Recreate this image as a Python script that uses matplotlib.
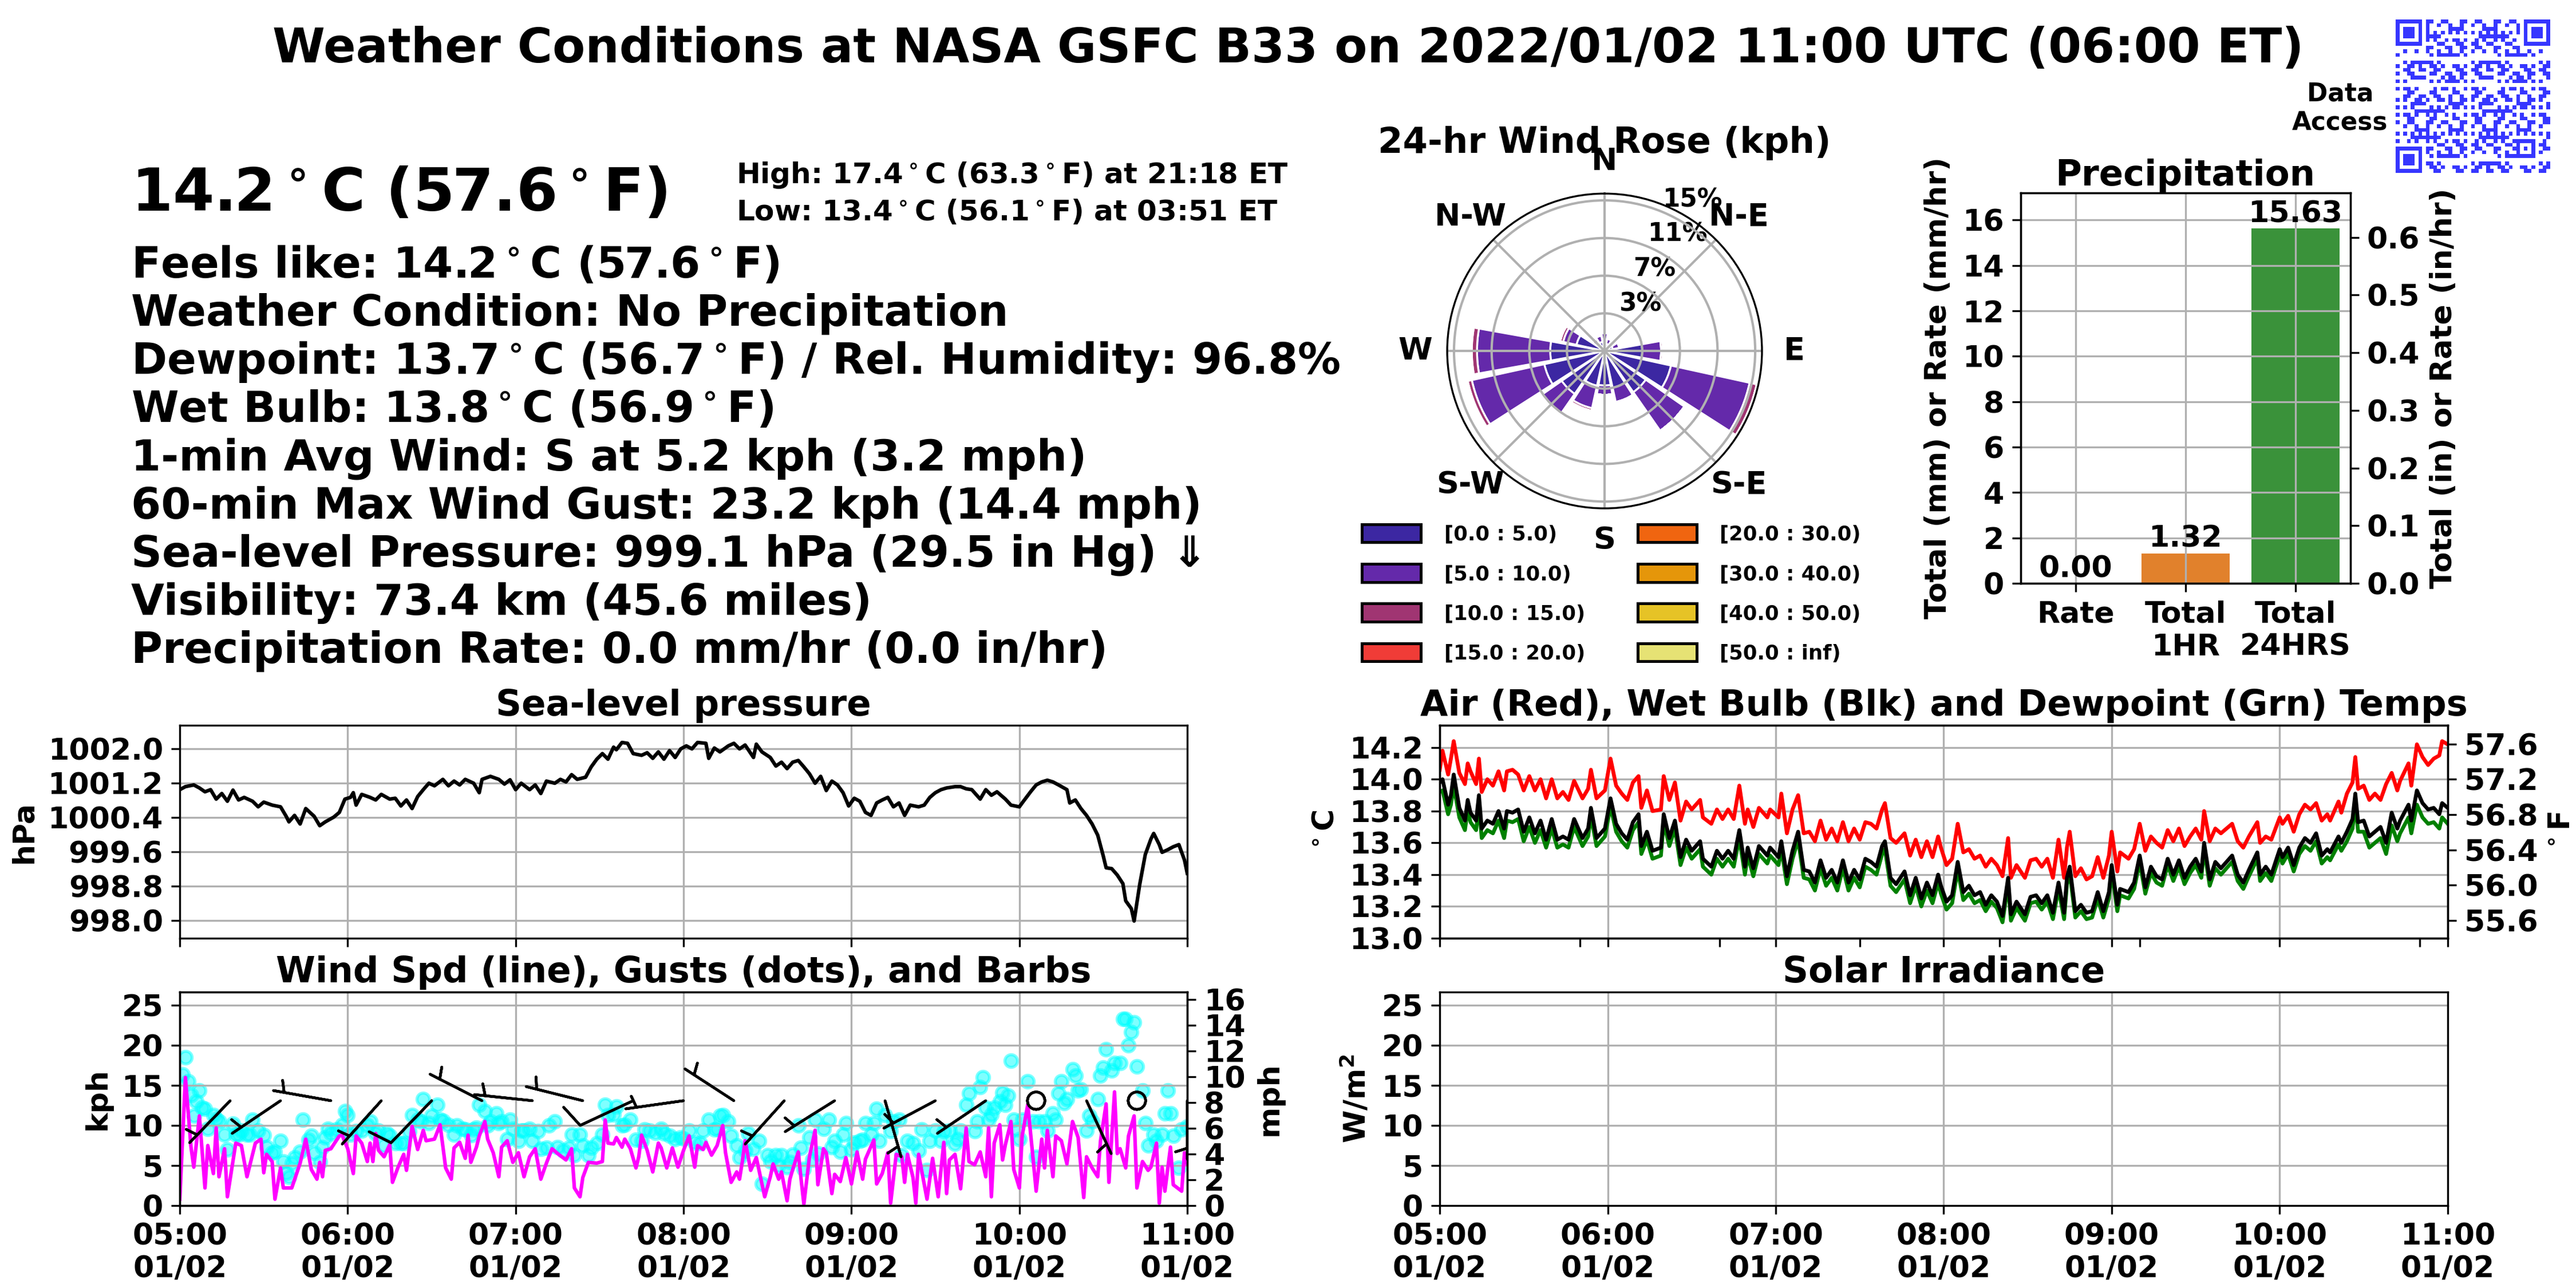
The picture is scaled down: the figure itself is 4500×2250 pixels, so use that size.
import numpy as np
import pandas as pd
import matplotlib
matplotlib.use("Agg")
import matplotlib.pyplot as plt
import matplotlib.dates as mdates
from matplotlib.patches import Patch
from matplotlib.colors import ListedColormap

plt.rcParams['font.family'] = ['DejaVu Sans']
plt.rcParams['font.weight'] = 'bold'
plt.rcParams['axes.titleweight'] = 'bold'
plt.rcParams['axes.labelweight'] = 'bold'

# ---------------- data ----------------
# minutes after 05:00 UTC

pres_min = [0,2,5,7,9,11,13,15,17,19,21,23,26,28,30,33,36,38,39,41,43,45,48,50,52,55,57,59,61,62,
            63,65,68,70,72,75,77,79,81,83,85,87,89,91,94,96,98,100,102,105,107,108,111,114,116,118,120,122,125,127,
            129,131,134,136,138,140,142,145,147,149,151,153,155,156,158,160,162,165,167,169,171,173,175,177,179,181,183,185,188,189,
            191,193,196,198,200,202,205,206,208,211,213,215,217,219,221,223,225,227,229,231,233,235,237,239,241,243,245,247,249,251,
            253,255,257,259,261,264,266,268,270,272,274,277,279,281,283,286,288,290,292,295,297,300,301,304,306,308,310,312,314,317,
            318,320,322,324,326,328,330,331,333,335,337,338,340,341,343,345,347,348,350,351,353,355,357,359,360]
pres_hpa = [1001.05,1001.12,1001.16,1001.09,1001.0,1001.05,1000.83,1000.96,1000.78,1001.04,1000.81,1000.87,1000.78,1000.65,1000.76,
            1000.69,1000.65,1000.43,1000.30,1000.45,1000.25,1000.61,1000.43,1000.21,1000.30,1000.41,1000.52,1000.83,1000.87,1000.98,
            1000.69,1000.94,1000.87,1000.81,1000.94,1000.83,1000.85,1000.67,1000.81,1000.61,1000.89,1001.05,1001.20,1001.14,1001.29,
            1001.14,1001.25,1001.16,1001.29,1001.20,1000.98,1001.29,1001.36,1001.29,1001.18,1001.28,1001.05,1001.20,1001.05,1001.16,
            1000.96,1001.25,1001.20,1001.29,1001.23,1001.40,1001.29,1001.34,1001.58,1001.76,1001.89,1001.76,1002.04,1001.98,1002.15,
            1002.13,1001.89,1001.85,1001.91,1001.78,1001.93,1001.76,1001.96,1001.80,1002.00,1002.07,1002.00,1002.15,1002.13,1001.78,
            1002.02,1001.93,1002.07,1002.13,1002.00,1002.09,1001.80,1002.11,1001.93,1001.80,1001.60,1001.69,1001.54,1001.69,1001.73,
            1001.58,1001.42,1001.20,1001.36,1001.03,1001.25,1001.16,1000.98,1000.67,1000.85,1000.78,1000.52,1000.45,1000.74,1000.81,
            1000.87,1000.65,1000.74,1000.45,1000.69,1000.65,1000.69,1000.87,1000.98,1001.05,1001.09,1001.12,1001.12,1001.07,1001.05,
            1000.83,1001.05,1000.92,1001.00,1000.83,1000.69,1000.65,1000.74,1001.00,1001.16,1001.23,1001.27,1001.23,1001.16,1001.05,
            1000.74,1000.81,1000.61,1000.45,1000.25,999.99,999.50,999.23,999.21,999.06,998.86,998.46,998.28,997.99,998.84,
            999.54,999.90,1000.03,999.77,999.59,999.65,999.72,999.77,999.41,999.10]

temp_min = [0,1,3,4,5,7,9,10,11,13,14,15,17,19,21,23,24,26,28,30,32,34,36,38,40,42,44,46,48,51,
            53,54,56,59,61,63,65,67,69,71,72,74,76,79,80,82,84,86,88,90,93,94,97,99,101,103,105,107,109,110,
            112,114,117,118,121,122,124,126,128,130,132,134,136,138,140,142,144,146,148,150,152,154,156,158,159,161,163,166,168,170,
            172,174,176,178,179,181,183,185,187,189,191,193,195,197,199,201,203,204,206,209,211,213,215,217,219,221,223,224,225,227,
            229,231,233,235,237,239,240,242,243,246,248,250,252,254,256,258,260,262,264,266,268,270,272,273,275,277,279,281,283,285,
            287,289,292,293,295,297,300,301,303,305,307,309,311,313,315,317,318,321,322,324,326,327,328,330,332,334,336,338,340,342,
            343,346,347,349,351,353,355,357,358,360]
air_c = [14.06,14.18,14.03,14.13,14.24,14.04,13.97,14.10,14.05,13.97,14.13,13.92,14.00,13.96,14.05,13.93,14.05,14.06,14.03,13.93,
         14.02,13.93,14.00,13.88,14.00,13.88,13.92,13.87,13.99,13.88,13.94,14.06,13.88,13.93,14.13,13.96,13.91,13.87,13.98,14.02,
         13.82,13.93,13.80,13.81,14.02,13.87,13.98,13.74,13.86,13.81,13.87,13.76,13.72,13.81,13.75,13.81,13.75,13.96,13.72,13.81,
         13.70,13.82,13.76,13.81,13.76,13.91,13.66,13.81,13.90,13.66,13.67,13.61,13.74,13.62,13.69,13.61,13.73,13.61,13.69,13.62,
         13.73,13.72,13.69,13.81,13.85,13.63,13.60,13.66,13.52,13.62,13.51,13.61,13.51,13.64,13.57,13.46,13.50,13.72,13.54,13.56,
         13.50,13.52,13.45,13.50,13.46,13.39,13.63,13.38,13.46,13.38,13.49,13.50,13.45,13.50,13.38,13.62,13.38,13.57,13.67,13.39,
         13.44,13.37,13.39,13.51,13.38,13.52,13.67,13.42,13.54,13.50,13.56,13.72,13.55,13.64,13.60,13.57,13.68,13.61,13.69,13.58,
         13.64,13.69,13.62,13.80,13.61,13.69,13.66,13.69,13.72,13.61,13.57,13.64,13.73,13.60,13.64,13.62,13.76,13.72,13.77,13.67,
         13.78,13.84,13.81,13.85,13.74,13.78,13.74,13.86,13.79,13.91,13.98,14.14,13.94,13.96,13.87,13.91,13.87,13.97,14.04,13.93,
         13.99,14.10,13.96,14.22,14.14,14.09,14.13,14.15,14.24,14.22]
wetbulb_c = [13.98,14.00,13.84,13.90,14.03,13.82,13.74,13.87,13.79,13.74,13.90,13.69,13.74,13.72,13.80,13.69,13.80,13.79,13.81,13.67,
             13.76,13.66,13.74,13.62,13.75,13.62,13.64,13.62,13.75,13.63,13.69,13.82,13.63,13.69,13.88,13.72,13.66,13.62,13.73,13.78,
             13.58,13.67,13.55,13.57,13.78,13.63,13.74,13.51,13.62,13.55,13.61,13.50,13.45,13.55,13.50,13.55,13.50,13.68,13.45,13.57,
             13.44,13.58,13.52,13.57,13.51,13.61,13.39,13.55,13.67,13.43,13.42,13.35,13.49,13.38,13.43,13.35,13.49,13.35,13.43,13.37,
             13.50,13.48,13.45,13.58,13.61,13.38,13.34,13.42,13.27,13.38,13.25,13.35,13.27,13.40,13.33,13.23,13.27,13.48,13.29,13.33,
             13.27,13.29,13.21,13.27,13.23,13.14,13.38,13.15,13.23,13.15,13.26,13.27,13.22,13.27,13.16,13.35,13.16,13.38,13.45,13.17,
             13.21,13.16,13.17,13.29,13.17,13.29,13.46,13.21,13.31,13.29,13.35,13.52,13.32,13.45,13.39,13.37,13.50,13.40,13.49,13.38,
             13.45,13.50,13.42,13.60,13.37,13.48,13.44,13.48,13.52,13.40,13.35,13.43,13.54,13.40,13.45,13.40,13.56,13.51,13.57,13.46,
             13.57,13.63,13.60,13.66,13.52,13.56,13.54,13.64,13.60,13.67,13.75,13.91,13.73,13.74,13.64,13.67,13.70,13.60,13.79,13.69,
             13.74,13.84,13.74,13.93,13.85,13.81,13.82,13.78,13.85,13.82]
dewpt_c = [13.92,13.93,13.78,13.84,13.96,13.76,13.68,13.81,13.73,13.68,13.84,13.63,13.68,13.66,13.74,13.63,13.74,13.73,13.75,13.61,
           13.70,13.60,13.68,13.57,13.69,13.57,13.59,13.57,13.70,13.58,13.64,13.77,13.58,13.64,13.83,13.67,13.61,13.57,13.68,13.73,
           13.53,13.62,13.50,13.52,13.73,13.58,13.69,13.46,13.57,13.50,13.56,13.45,13.40,13.50,13.45,13.50,13.45,13.63,13.40,13.52,
           13.39,13.53,13.47,13.52,13.46,13.56,13.34,13.50,13.62,13.38,13.37,13.30,13.44,13.33,13.38,13.30,13.44,13.30,13.38,13.32,
           13.45,13.43,13.40,13.53,13.56,13.33,13.29,13.37,13.22,13.33,13.20,13.30,13.22,13.35,13.28,13.18,13.22,13.43,13.24,13.28,
           13.22,13.24,13.17,13.23,13.19,13.10,13.34,13.11,13.19,13.11,13.22,13.23,13.18,13.23,13.12,13.31,13.12,13.34,13.41,13.13,
           13.17,13.12,13.13,13.25,13.13,13.25,13.42,13.17,13.27,13.25,13.31,13.48,13.28,13.41,13.35,13.33,13.46,13.36,13.45,13.34,
           13.41,13.46,13.38,13.56,13.33,13.44,13.40,13.44,13.48,13.36,13.31,13.39,13.50,13.36,13.41,13.36,13.52,13.47,13.53,13.42,
           13.53,13.58,13.55,13.61,13.47,13.51,13.49,13.59,13.55,13.61,13.69,13.85,13.67,13.67,13.57,13.60,13.63,13.53,13.71,13.61,
           13.66,13.76,13.66,13.84,13.76,13.72,13.73,13.69,13.76,13.72]

wind_min = [0,2,4,5,7,9,10,12,13,14,16,17,20,22,24,27,29,30,31,33,34,36,37,40,43,45,47,49,50,51,
            52,54,57,58,60,62,63,65,67,68,69,70,71,73,75,76,78,80,81,83,85,87,88,91,93,95,97,98,100,102,
            103,104,106,107,109,110,112,114,115,117,119,121,123,125,127,129,131,133,135,138,140,141,143,144,146,149,151,152,153,155,
            156,158,159,161,163,164,165,167,169,171,172,174,176,178,
            180,182,184,185,187,188,190,192,194,195,197,199,200,201,202,204,206,209,211,212,214,215,217,218,219,221,222,223,225,227,
            228,230,231,233,234,236,238,240,242,244,245,248,249,251,253,254,256,258,259,260,262,263,264,267,269,271,273,274,275,277,
            279,281,282,284,286,288,289,290,291,293,294,295,297,298,300,301,303,305,306,308,309,310,312,313,315,317,319,321,323,324,
            326,328,329,331,332,334,335,336,338,339,341,342,344,346,347,349,350,351,352,354,355,358,359,360]
wind_kph = [0.8,16.0,7.3,4.8,11.2,2.2,7.5,4.0,9.7,3.6,7.1,1.1,7.8,7.5,3.6,7.8,8.3,4.1,6.4,5.5,
            0.8,4.7,2.2,2.2,5.3,8.3,4.5,3.3,5.4,3.6,6.9,7.1,8.7,8.8,7.1,4.0,8.7,7.8,5.5,7.8,
            5.5,9.0,6.9,6.1,7.6,2.9,4.8,6.4,4.4,9.9,7.0,9.4,8.1,8.3,10.1,4.7,3.3,7.2,7.9,5.9,
            8.8,5.4,7.3,8.7,10.5,8.3,6.6,3.6,7.3,8.1,5.4,6.6,3.6,6.1,7.1,3.3,5.3,7.1,6.5,5.7,
            7.1,2.2,1.1,3.5,5.4,5.3,5.5,10.7,7.8,7.7,8.5,7.3,8.3,7.1,4.7,6.1,8.8,6.9,4.2,7.8,
            7.2,4.7,7.2,4.8,
            6.9,8.7,4.8,7.5,7.0,7.9,6.3,7.5,10.0,6.6,2.9,4.2,3.3,5.5,8.1,4.4,6.0,1.1,3.6,5.2,
            3.3,4.2,0.6,3.3,4.5,6.7,3.3,0.2,6.1,9.4,2.6,7.1,6.6,1.5,3.9,3.0,6.0,2.7,6.7,3.3,
            5.8,8.2,2.7,4.0,6.6,0.3,6.4,6.1,2.9,6.4,3.5,0.3,6.4,0.8,5.9,1.1,7.9,1.5,5.7,6.4,
            2.1,9.7,5.5,5.1,6.7,3.6,9.7,1.1,7.8,10.1,5.7,7.6,10.5,4.5,2.2,8.7,12.6,5.5,1.8,8.3,
            4.7,9.4,3.6,8.7,8.1,5.2,10.5,8.5,1.0,6.1,4.7,3.6,8.1,12.7,2.9,14.2,6.5,7.1,4.7,8.7,
            11.2,2.2,5.5,4.4,4.8,7.8,0.3,4.8,1.8,7.3,2.6,1.8,6.6,5.2]

gust_min = [1,2,3,4,5,6,7,8,9,10,12,13,14,16,17,19,20,21,22,24,25,26,28,30,31,33,34,36,37,38,
            39,40,41,43,44,46,47,48,50,51,52,53,54,56,58,59,60,61,63,65,67,68,70,71,73,74,75,77,79,80,
            82,83,85,86,87,89,90,92,93,94,96,98,99,101,102,104,105,106,107,109,110,111,113,114,115,117,118,119,121,122,
            123,125,126,128,129,131,132,134,135,137,139,140,141,143,144,146,147,149,151,152,153,155,156,158,159,161,163,165,166,168,
            170,172,173,175,177,179,
            180,182,184,186,187,189,191,192,193,194,196,197,199,200,202,203,205,207,208,210,211,213,214,215,217,218,219,221,222,223,
            225,226,227,228,230,232,233,234,236,237,238,240,241,243,244,245,247,248,249,250,252,254,255,257,258,260,262,264,265,267,
            268,270,272,273,275,277,278,279,281,282,284,285,286,287,288,289,290,291,293,294,295,296,297,298,299,300,301,303,305,306,
            307,309,310,312,313,314,315,316,317,319,320,321,322,324,325,326,328,329,330,331,333,334,336,337,338,339,340,341,342,344,
            345,346,348,349,351,352,353,354,355,357,358,360]
gust_kph = [16.4,18.5,15.5,13.8,11.2,13.0,14.4,12.2,12.1,9.6,11.3,10.8,10.5,8.9,7.0,10.2,8.9,8.9,9.4,8.9,
            8.9,10.7,9.4,8.8,7.3,6.6,6.7,8.1,5.5,4.1,3.6,5.3,6.0,6.7,10.7,8.2,8.7,6.6,5.4,7.3,
            8.5,9.6,9.0,9.5,10.1,11.8,11.3,8.9,9.3,9.4,10.0,10.5,9.0,9.4,7.5,9.0,8.7,7.8,7.8,7.8,
            9.3,11.3,10.7,10.5,13.3,10.3,11.2,12.6,10.7,10.6,10.1,8.9,10.0,9.6,9.5,8.8,9.5,9.7,12.6,11.8,
            10.0,10.5,11.5,10.3,10.5,8.3,10.7,9.6,8.1,9.4,9.4,9.6,8.1,9.3,7.1,7.2,10.0,10.5,7.3,6.9,
            7.2,8.9,6.3,8.9,7.5,6.3,7.2,7.8,8.9,12.6,11.3,11.4,12.4,10.0,10.1,10.7,8.2,8.1,9.5,9.4,
            9.1,9.6,9.0,8.7,8.3,8.5,
            8.4,9.4,7.9,7.8,9.4,10.7,9.5,9.6,11.2,11.3,10.5,8.7,7.5,6.0,6.9,9.0,7.1,8.1,2.7,6.3,
            5.5,6.3,5.0,6.3,4.8,5.4,6.4,10.0,7.2,4.6,8.5,5.7,10.7,6.5,9.6,10.7,7.3,8.1,6.7,8.9,
            10.3,7.0,7.9,8.1,8.2,10.3,8.9,10.3,12.1,8.1,11.3,9.3,10.5,10.7,6.3,8.1,7.8,6.9,9.5,4.4,
            8.1,9.4,8.1,9.3,9.4,7.7,8.3,9.4,12.6,14.0,9.3,10.5,14.8,16.0,12.2,10.7,11.4,12.2,13.0,14.1,
            12.6,13.7,18.1,10.7,9.5,8.3,10.7,15.5,10.5,6.1,10.5,10.5,9.4,11.5,10.7,14.0,15.5,12.8,13.3,17.0,
            16.2,14.4,14.5,9.4,11.2,10.5,13.3,16.2,17.2,19.5,16.9,17.8,17.8,23.3,23.3,20.0,21.7,22.9,17.4,14.4,
            10.3,7.5,8.9,8.1,8.9,11.5,14.4,11.5,8.7,4.7,9.5,9.9]

# wind barbs: time, direction the wind blows from (deg), speed (barb units)
barb_min = [18,36,54,72,90,108,126,144,162,180,198,216,234,252,270,288,306,324,342,360]
barb_dir = [224,236,280,222,224,297,276,284,245,262,303,222,238,164,242,236,0,155,0,180]
barb_spd = [5,5,5,5,10,5,5,5,10,5,5,5,5,5,5,5,2,5,2,5]

# wind rose, percent of time per direction (N, NNE, ... NNW) and speed bin
rose_bins = ['[0.0 : 5.0)', '[5.0 : 10.0)', '[10.0 : 15.0)', '[15.0 : 20.0)',
             '[20.0 : 30.0)', '[30.0 : 40.0)', '[40.0 : 50.0)', '[50.0 : inf)']
rose_colors = ['#3c27a2', '#6429aa', '#a03572', '#f03c37', '#f06510', '#e5960a', '#e6c326', '#e6e274']
rose_0_5 = [0.9, 0.7, 0.6, 0.8, 3.6, 6.5, 4.8, 3.6, 3.3, 3.4, 5.0, 5.9, 5.2, 2.75, 0.8, 0.9]
rose_5_10 = [0.8, 0.5, 0.4, 0.65, 1.8, 7.7, 4.5, 1.4, 0.9, 2.2, 2.3, 7.1, 7.0, 1.3, 0.6, 0.6]
rose_10_15 = [0.1, 0, 0, 0, 0.2, 0.7, 0, 0, 0, 0.25, 0.1, 0.4, 0.5, 0.3, 0.2, 0.1]
rose_15_20 = [0, 0, 0, 0, 0, 0, 0, 0, 0, 0, 0, 0.05, 0.15, 0, 0, 0]
rose_dirs = ['N', 'N-E', 'E', 'S-E', 'S', 'S-W', 'W', 'N-W']

precip_names = ['Rate', 'Total\n1HR', 'Total\n24HRS']
precip_mm = [0.00, 1.32, 15.63]

n_p = (len(pres_min), len(pres_hpa))
n_t = (len(temp_min), len(air_c), len(wetbulb_c), len(dewpt_c))
n_w = (len(wind_min), len(wind_kph), len(gust_min), len(gust_kph))
assert n_p[0] == n_p[1], n_p
assert len(set(n_t)) == 1, n_t
assert n_w[0] == n_w[1] and n_w[2] == n_w[3], n_w

base = pd.Timestamp('2022-01-02 05:00')


def to_t(mins):
    return mdates.date2num(base + pd.to_timedelta(np.asarray(mins), unit='m'))


t0, t1 = to_t([0, 360])
tick_fmt = mdates.DateFormatter('%H:%M\n%m/%d')
TICK = 12.5
TITLE = 15

fig = plt.figure(figsize=(15, 7.5))

# ---------------- header texts ----------------
fig.text(0.5, 0.962, 'Weather Conditions at NASA GSFC B33 on 2022/01/02 11:00 UTC (06:00 ET)',
         ha='center', va='center', fontsize=20)
fig.text(0.051, 0.8364, '14.2$^\\circ$C (57.6$^\\circ$F)', fontsize=25, va='baseline')
fig.text(0.2858, 0.858, 'High: 17.4$^\\circ$C (63.3$^\\circ$F) at 21:18 ET', fontsize=12, va='baseline')
fig.text(0.2858, 0.8289, 'Low: 13.4$^\\circ$C (56.1$^\\circ$F) at 03:51 ET', fontsize=12, va='baseline')
lines = ['Feels like: 14.2$^\\circ$C (57.6$^\\circ$F)',
         'Weather Condition: No Precipitation',
         'Dewpoint: 13.7$^\\circ$C (56.7$^\\circ$F) / Rel. Humidity: 96.8%',
         'Wet Bulb: 13.8$^\\circ$C (56.9$^\\circ$F)',
         '1-min Avg Wind: S at 5.2 kph (3.2 mph)',
         '60-min Max Wind Gust: 23.2 kph (14.4 mph)',
         'Sea-level Pressure: 999.1 hPa (29.5 in Hg) \u21d3',
         'Visibility: 73.4 km (45.6 miles)',
         'Precipitation Rate: 0.0 mm/hr (0.0 in/hr)']
for i, s in enumerate(lines):
    fig.text(0.051, 0.7845 - i * 0.0374, s, fontsize=18, va='baseline')

fig.text(0.927, 0.916, 'Data\nAccess', ha='right', va='center', fontsize=10.5, multialignment='center')

# QR-style block (decoration only)
n = 41
ii, jj = np.mgrid[0:n, 0:n]
qr = (((ii * 13 + jj * 7 + ii * jj * 5 + (ii // 3) * (jj // 2)) % 9) < 4).astype(float)
for r0, c0 in [(0, 0), (0, n - 7), (n - 7, 0)]:
    qr[max(r0 - 1, 0):r0 + 8, max(c0 - 1, 0):c0 + 8] = 0
    qr[r0:r0 + 7, c0:c0 + 7] = 1
    qr[r0 + 1:r0 + 6, c0 + 1:c0 + 6] = 0
    qr[r0 + 2:r0 + 5, c0 + 2:c0 + 5] = 1
qr[n - 9:n - 4, n - 9:n - 4] = 1
qr[n - 8:n - 5, n - 8:n - 5] = 0
qr[n - 7, n - 7] = 1
ax_qr = fig.add_axes([0.930, 0.8658, 0.0598, 0.1191])
ax_qr.imshow(qr, cmap=ListedColormap(['white', '#3636ff']), interpolation='nearest', aspect='auto')
ax_qr.axis('off')

# ---------------- wind rose ----------------
ax_r = fig.add_axes([0.5618, 0.6053, 0.1222, 0.2444], projection='polar')
ax_r.set_theta_zero_location('N')
ax_r.set_theta_direction(-1)
theta = np.deg2rad(np.arange(16) * 22.5)
width = np.deg2rad(22.5) * 0.9
bottom = np.zeros(16)
zero = [0] * 16
for vals, col in zip([rose_0_5, rose_5_10, rose_10_15, rose_15_20, zero, zero, zero, zero], rose_colors):
    vals = np.asarray(vals, dtype=float)
    ax_r.bar(theta, vals, width=width, bottom=bottom, color=col, edgecolor='white', linewidth=0.8)
    bottom = bottom + vals
ax_r.set_ylim(0, 15.05)
ax_r.set_rgrids([3.6, 7.2, 10.8, 14.4], labels=['3%', '7%', '11%', '15%'], angle=22.5,
                fontsize=10.5, fontweight='bold')
ax_r.set_thetagrids(np.arange(0, 360, 45), labels=rose_dirs, fontsize=13, fontweight='bold')
ax_r.tick_params(axis='x', pad=3)
ax_r.grid(True, color='#b0b0b0', lw=1.0)
fig.text(0.6229, 0.8889, '24-hr Wind Rose (kph)', ha='center', va='center', fontsize=TITLE)
handles = [Patch(facecolor=c, edgecolor='black', linewidth=1.2) for c in rose_colors]
fig.legend(handles, rose_bins, ncol=2, loc='upper left', bbox_to_anchor=(0.5287, 0.593),
           frameon=False, fontsize=8.5, handlelength=2.9, handleheight=1.0, handletextpad=1.15,
           labelspacing=0.97, columnspacing=2.6, borderpad=0, borderaxespad=0)

# ---------------- precipitation ----------------
ax_p = fig.add_axes([0.7844, 0.5471, 0.1280, 0.3031])
bars = ax_p.bar(range(3), precip_mm, width=0.8, color=['#3274a1', '#e1812c', '#3a923a'])
ax_p.bar_label(bars, fmt='%.2f', fontsize=TICK, fontweight='bold', padding=0)
ax_p.set_xlim(-0.5, 2.5)
ax_p.set_ylim(0, max(precip_mm) * 1.1)
ax_p.set_yticks(np.arange(0, 17, 2))
ax_p.set_xticks(range(3))
ax_p.set_xticklabels(precip_names)
ax_p.grid(True)
ax_p.tick_params(labelsize=TICK)
ax_p.set_ylabel('Total (mm) or Rate (mm/hr)', fontsize=TICK)
ax_p.set_title('Precipitation', fontsize=TITLE, pad=3)
ax_p2 = ax_p.twinx()
ax_p2.set_ylim(0, max(precip_mm) * 1.1 / 25.4)
ax_p2.set_yticks(np.arange(0, 0.65, 0.1))
ax_p2.yaxis.set_major_formatter(matplotlib.ticker.FormatStrFormatter('%.1f'))
ax_p2.tick_params(labelsize=TICK)
ax_p2.set_ylabel('Total (in) or Rate (in/hr)', fontsize=TICK)


def time_axis(ax, labels):
    ax.set_xlim(t0, t1)
    ax.xaxis.set_major_locator(mdates.HourLocator())
    ax.xaxis.set_major_formatter(tick_fmt)
    ax.grid(True)
    ax.tick_params(labelsize=TICK, labelbottom=labels)


# ---------------- sea level pressure ----------------
ax_s = fig.add_axes([0.0698, 0.2716, 0.3911, 0.1653])
ax_s.plot(to_t(pres_min), pres_hpa, color='black', lw=1.5)
ax_s.set_ylim(min(pres_hpa) - 0.4, max(pres_hpa) + 0.4)
ax_s.set_yticks(np.arange(998.0, 1002.1, 0.8))
ax_s.yaxis.set_major_formatter(matplotlib.ticker.FormatStrFormatter('%.1f'))
time_axis(ax_s, False)
ax_s.set_ylabel('hPa', fontsize=TICK)
ax_s.set_title('Sea-level pressure', fontsize=TITLE, pad=4)

# ---------------- wind ----------------
ax_w = fig.add_axes([0.0698, 0.0640, 0.3911, 0.1658])
ax_w.plot(to_t(wind_min), wind_kph, color='magenta', lw=1.5)
ax_w.scatter(to_t(gust_min), gust_kph, s=28, color='cyan', alpha=0.5, linewidths=1.3)
bd = np.deg2rad(barb_dir)
bs = np.asarray(barb_spd, dtype=float)
ax_w.barbs(to_t(barb_min), np.full(len(barb_min), 13.1), -bs * np.sin(bd), -bs * np.cos(bd),
           length=7, linewidth=1.1, color='black', zorder=5)
wtop = max(gust_kph) * 1.145
ax_w.set_ylim(0, wtop)
ax_w.set_yticks(np.arange(0, 26, 5))
time_axis(ax_w, True)
ax_w.set_ylabel('kph', fontsize=TICK)
ax_w.set_title('Wind Spd (line), Gusts (dots), and Barbs', fontsize=TITLE, pad=4)
ax_w2 = ax_w.twinx()
ax_w2.set_ylim(0, wtop * 0.621371)
ax_w2.set_yticks(np.arange(0, 17, 2))
ax_w2.tick_params(labelsize=TICK)
ax_w2.set_ylabel('mph', fontsize=TICK)

# ---------------- temperatures ----------------
ax_t = fig.add_axes([0.5589, 0.2716, 0.3913, 0.1653])
tt = to_t(temp_min)
ax_t.plot(tt, air_c, color='red', lw=1.6)
ax_t.plot(tt, dewpt_c, color='green', lw=1.6)
ax_t.plot(tt, wetbulb_c, color='black', lw=1.6)
ax_t.set_ylim(13.0, 14.34)
ax_t.set_yticks(np.arange(13.0, 14.21, 0.2))
ax_t.yaxis.set_major_formatter(matplotlib.ticker.FormatStrFormatter('%.1f'))
time_axis(ax_t, False)
ax_t.set_xticks(to_t([50, 100, 150, 200, 250, 350]), minor=True)
ax_t.tick_params(axis='x', which='minor', length=3.5, width=0.8)
ax_t.set_ylabel('$^\\circ$C', fontsize=TICK)
ax_t.set_title('Air (Red), Wet Bulb (Blk) and Dewpoint (Grn) Temps', fontsize=TITLE, pad=4)
ax_t2 = ax_t.twinx()
ax_t2.set_ylim(13.0 * 9 / 5 + 32, 14.34 * 9 / 5 + 32)
ax_t2.set_yticks(np.arange(55.6, 57.61, 0.4))
ax_t2.yaxis.set_major_formatter(matplotlib.ticker.FormatStrFormatter('%.1f'))
ax_t2.tick_params(labelsize=TICK)
ax_t2.set_ylabel('$^\\circ$F', fontsize=TICK)

# ---------------- solar ----------------
ax_i = fig.add_axes([0.5589, 0.0640, 0.3913, 0.1658])
ax_i.set_ylim(0, wtop)
ax_i.set_yticks(np.arange(0, 26, 5))
time_axis(ax_i, True)
ax_i.set_ylabel('W/m$^2$', fontsize=TICK)
ax_i.set_title('Solar Irradiance', fontsize=TITLE, pad=4)

fig.savefig('out.png', dpi=300)
